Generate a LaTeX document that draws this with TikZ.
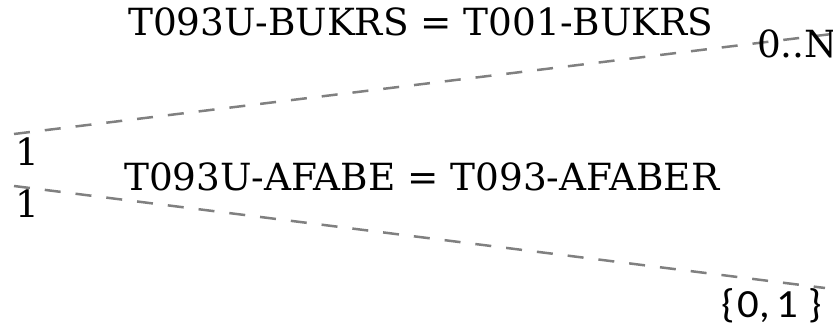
\documentclass[tikz,border=0pt]{standalone}
\usepackage{fontspec}
\setmainfont{DejaVu Serif}
\newfontfamily\cardfont{Carlito}
\usetikzlibrary{positioning, calc}
\tikzstyle{relation} = [draw=gray, line width=2.5pt, dash pattern=on 16pt off 15pt]
\tikzstyle{joinlabel} = [inner sep=0pt, anchor=base west, font=\fontsize{37.4}{40}\selectfont]
\tikzstyle{cardlabel} = [inner sep=0pt, anchor=base west, font=\fontsize{37.4}{40}\selectfont]

\begin{document}
\begin{tikzpicture}[x=1pt, y=-1pt]
    \useasboundingbox (0,0) rectangle (833,326);
    \coordinate (left1) at (14,134);
    \coordinate (right1) at (840,33);
    \coordinate (left2) at (14,186);
    \coordinate (right2) at (825,288);

    \draw [relation] (left1) -- (right1);
    \draw [relation] (left2) -- (right2);

    \node (join1) [joinlabel] at (128,36) {T093U-BUKRS = T001-BUKRS};
    \node (join2) [joinlabel] at (124,190) {T093U-AFABE = T093-AFABER};
    \node (card1) [cardlabel] at (15,165) {1};
    \node (card2) [cardlabel] at (15,217) {1};
    \node (card3) [cardlabel] at (757,58) {0..N};
    \node (card4) [cardlabel, font=\cardfont\fontsize{40}{44}\selectfont] at (721,317) {\scalebox{1.07}[1]{\{\hspace{3pt}0,\hspace{6pt}1\hspace{9pt}\}}};
\end{tikzpicture}
\end{document}
